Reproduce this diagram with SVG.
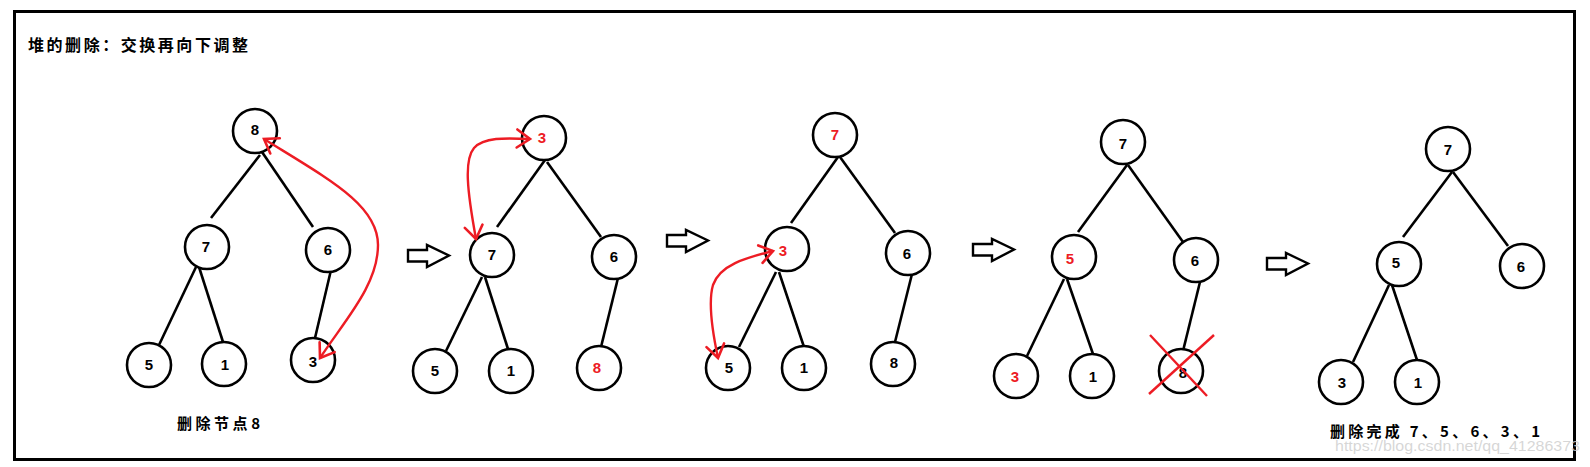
<svg xmlns="http://www.w3.org/2000/svg" width="1590" height="467" viewBox="0 0 1590 467">
<style>
.n circle{fill:#fff;stroke:#000;stroke-width:2.6}
.n text{font-family:"Liberation Sans","DejaVu Sans",sans-serif;font-weight:bold;font-size:15px;text-anchor:middle;fill:#000}
.n text.r{fill:#ED1C24}
.e line{stroke:#000;stroke-width:2.6;stroke-linecap:butt}
.sw{fill:none;stroke:#ED1C24;stroke-width:2.4;marker-start:url(#chev);marker-end:url(#chev)}
.x{stroke:#ED1C24;stroke-width:2.4}
.blk{fill:#fff;stroke:#000;stroke-width:2.4;stroke-linejoin:miter}
.cjk{font-family:"Noto Sans CJK SC","Liberation Sans",sans-serif;font-weight:bold;fill:#000}
</style>
<defs>
<marker id="chev" markerUnits="userSpaceOnUse" markerWidth="24" markerHeight="24" refX="16" refY="10" orient="auto-start-reverse" overflow="visible">
<path d="M3,1 L16,10 L3,19" fill="none" stroke="#ED1C24" stroke-width="2.6" stroke-linecap="round" stroke-linejoin="miter"/>
</marker>
<path id="barrow" d="M0,5 L19,5 L19,0 L41,10.5 L19,22 L19,16.5 L0,16.5 Z"/>
</defs>
<rect x="0" y="0" width="1590" height="467" fill="#fff"/>
<rect x="14.5" y="11.5" width="1560" height="448" fill="none" stroke="#000" stroke-width="3"/>
<text class="cjk" x="28" y="51" font-size="16" textLength="220" lengthAdjust="spacing">堆的删除：交换再向下调整</text>

<g id="connectors">
<g class="e">
<line x1="260" y1="155" x2="211" y2="218"/>
<line x1="262" y1="152" x2="313" y2="227"/>
<line x1="196" y1="267" x2="159" y2="345"/>
<line x1="199" y1="267" x2="223" y2="342"/>
<line x1="331" y1="270" x2="315" y2="338"/>

<line x1="545" y1="160" x2="497" y2="227"/>
<line x1="547" y1="162" x2="601" y2="237"/>
<line x1="482" y1="277" x2="446" y2="351"/>
<line x1="485" y1="277" x2="508" y2="349"/>
<line x1="618" y1="278" x2="601" y2="347"/>

<line x1="838" y1="157" x2="791" y2="223"/>
<line x1="840" y1="157" x2="895" y2="233"/>
<line x1="776" y1="272" x2="739" y2="347"/>
<line x1="779" y1="272" x2="804" y2="347"/>
<line x1="912" y1="274" x2="895" y2="342"/>

<line x1="1127" y1="165" x2="1078" y2="232"/>
<line x1="1128" y1="165" x2="1183" y2="242"/>
<line x1="1064" y1="279" x2="1027" y2="356"/>
<line x1="1067" y1="279" x2="1093" y2="354"/>
<line x1="1200" y1="282" x2="1183" y2="351"/>

<line x1="1452" y1="172" x2="1403" y2="237"/>
<line x1="1453" y1="172" x2="1508" y2="246"/>
<line x1="1389" y1="285" x2="1353" y2="362"/>
<line x1="1392" y1="285" x2="1417" y2="360"/>
</g>
<use href="#barrow" class="blk" x="408" y="245"/>
<use href="#barrow" class="blk" x="667" y="230"/>
<use href="#barrow" class="blk" x="973" y="239"/>
<use href="#barrow" class="blk" x="1267" y="253"/>
</g>

<g id="t1-n8" class="n"><circle cx="255" cy="131" r="22"/><text x="255" y="135">8</text></g>
<g id="t1-n7" class="n"><circle cx="207" cy="247" r="22"/><text x="206" y="252">7</text></g>
<g id="t1-n6" class="n"><circle cx="328" cy="250" r="22"/><text x="328" y="255">6</text></g>
<g id="t1-n5" class="n"><circle cx="149" cy="365" r="22"/><text x="149" y="370">5</text></g>
<g id="t1-n1" class="n"><circle cx="224" cy="364" r="22"/><text x="225" y="370">1</text></g>
<g id="t1-n3" class="n"><circle cx="313" cy="360" r="22"/><text x="313" y="367">3</text></g>

<g id="t2-n3" class="n"><circle cx="544" cy="138" r="22"/><text class="r" x="542" y="143">3</text></g>
<g id="t2-n7" class="n"><circle cx="492" cy="255" r="22"/><text x="492" y="260">7</text></g>
<g id="t2-n6" class="n"><circle cx="614" cy="257" r="22"/><text x="614" y="262">6</text></g>
<g id="t2-n5" class="n"><circle cx="435" cy="371" r="22"/><text x="435" y="376">5</text></g>
<g id="t2-n1" class="n"><circle cx="511" cy="371" r="22"/><text x="511" y="376">1</text></g>
<g id="t2-n8" class="n"><circle cx="599" cy="368" r="22"/><text class="r" x="597" y="373">8</text></g>

<g id="t3-n7" class="n"><circle cx="835" cy="135" r="22"/><text class="r" x="835" y="140">7</text></g>
<g id="t3-n3" class="n"><circle cx="787" cy="249" r="22"/><text class="r" x="783" y="256">3</text></g>
<g id="t3-n6" class="n"><circle cx="908" cy="253" r="22"/><text x="907" y="259">6</text></g>
<g id="t3-n5" class="n"><circle cx="728" cy="368" r="22"/><text x="729" y="373">5</text></g>
<g id="t3-n1" class="n"><circle cx="804" cy="368" r="22"/><text x="804" y="373">1</text></g>
<g id="t3-n8" class="n"><circle cx="893" cy="364" r="22"/><text x="894" y="368">8</text></g>

<g id="t4-n7" class="n"><circle cx="1123" cy="142" r="22"/><text x="1123" y="149">7</text></g>
<g id="t4-n5" class="n"><circle cx="1074" cy="257" r="22"/><text class="r" x="1070" y="264">5</text></g>
<g id="t4-n6" class="n"><circle cx="1196" cy="260" r="22"/><text x="1195" y="266">6</text></g>
<g id="t4-n3" class="n"><circle cx="1016" cy="376" r="22"/><text class="r" x="1015" y="382">3</text></g>
<g id="t4-n1" class="n"><circle cx="1092" cy="376" r="22"/><text x="1093" y="382">1</text></g>
<g id="t4-n8" class="n"><circle cx="1181" cy="371" r="22"/><text x="1183" y="378">8</text>
<line class="x" x1="1150" y1="335" x2="1207" y2="396"/><line class="x" x1="1214" y1="335" x2="1149" y2="394"/></g>

<g id="t5-n7" class="n"><circle cx="1448" cy="149" r="22"/><text x="1448" y="155">7</text></g>
<g id="t5-n5" class="n"><circle cx="1399" cy="264" r="22"/><text x="1396" y="268">5</text></g>
<g id="t5-n6" class="n"><circle cx="1522" cy="266" r="22"/><text x="1521" y="272">6</text></g>
<g id="t5-n3" class="n"><circle cx="1341" cy="382" r="22"/><text x="1342" y="388">3</text></g>
<g id="t5-n1" class="n"><circle cx="1417" cy="382" r="22"/><text x="1418" y="388">1</text></g>

<g id="swaps">
<path class="sw" d="M264,139 C330,180 378,205 378,245 C378,285 345,320 320,358"/>
<path class="sw" d="M530,139 C505,138 484,137 474,148 C464,160 467,190 476,239"/>
<path class="sw" d="M773,251 C745,258 720,265 713,285 C708,302 712,330 718,358"/>
</g>

<text class="cjk" x="177" y="429" font-size="15" textLength="83" lengthAdjust="spacing">删除节点8</text>
<text class="cjk" x="1330" y="437" font-size="15" textLength="210" lengthAdjust="spacing">删除完成 7、5、6、3、1</text>
<text x="1335" y="451" font-family="Liberation Sans,sans-serif" font-size="14" fill="#cfcfcf" fill-opacity="0.85" textLength="245" lengthAdjust="spacingAndGlyphs">https://blog.csdn.net/qq_41286373</text>
</svg>
